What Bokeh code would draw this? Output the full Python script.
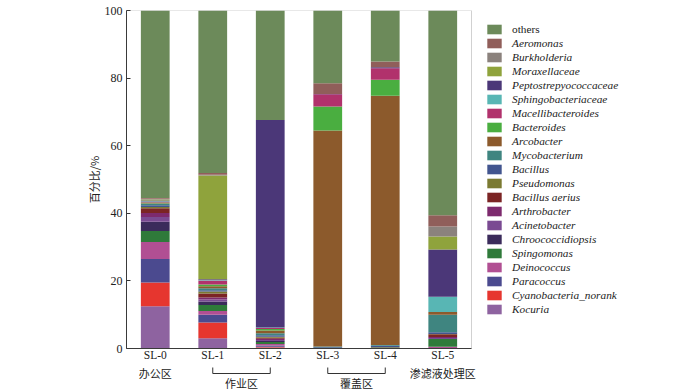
from bokeh.plotting import figure
from bokeh.models import (ColumnDataSource, Range1d, Legend, LegendItem, FixedTicker,
                          BoxAnnotation)
from bokeh.layouts import column
from bokeh.core.properties import value
from bokeh.embed import file_html
from bokeh.resources import INLINE

samples = ["SL-0", "SL-1", "SL-2", "SL-3", "SL-4", "SL-5"]
groups = ["办公区", "作业区", "覆盖区", "渗滤液处理区"]
group_members = [["SL-0"], ["SL-1", "SL-2"], ["SL-3", "SL-4"], ["SL-5"]]
y_ticks = [0, 20, 40, 60, 80, 100]

# stacked bottom -> top
Kocuria = [12.5, 3.0, 0.3, 0, 0, 0]
Cyanobacteria_norank = [7.0, 4.7, 0.2, 0, 0, 0]
Paracoccus = [7.0, 2.3, 0.4, 0, 0, 0]
Deinococcus = [5.0, 1.1, 0.4, 0, 0, 0.5]
Spingomonas = [3.3, 1.8, 0.6, 0, 0, 2.3]
Chroococcidiopsis = [2.7, 1.0, 0.3, 0, 0, 0]
Acinetobacter = [1.4, 0.6, 0.3, 0, 0, 0.3]
Arthrobacter = [1.2, 0.6, 0.4, 0, 0, 0.3]
Bacillus_aerius = [1.4, 1.2, 0.3, 0, 0, 0.8]
Pseudomonas = [0.4, 0.6, 0.3, 0.1, 0.4, 0.1]
Bacillus = [0.5, 0.3, 0.4, 0.3, 0.4, 0.5]
Mycobacterium = [0.4, 0.6, 0.6, 0.2, 0.2, 5.2]
Arcobacter = [0.2, 0.6, 0.8, 63.9, 73.8, 0.8]
Bacteroides = [0.2, 0.5, 0.5, 7.1, 4.7, 0]
Macellibacteroides = [0.2, 1.2, 0.3, 3.6, 3.4, 0]
Sphingobacteriaceae = [0.2, 0.2, 0.1, 0, 0, 4.5]
Peptostrepyococcaceae = [0.2, 0.2, 61.4, 0.1, 0.3, 14.0]
Moraxellaceae = [0.3, 30.7, 0, 0, 0, 3.8]
Burkholderia = [0.2, 0.2, 0, 0, 0, 3.0]
Aeromonas = [0.2, 0.5, 0, 3.2, 1.7, 3.3]
others = [55.5, 48.1, 32.4, 21.5, 15.1, 60.6]

names = ["Kocuria", "Cyanobacteria_norank", "Paracoccus", "Deinococcus", "Spingomonas",
         "Chroococcidiopsis", "Acinetobacter", "Arthrobacter", "Bacillus aerius",
         "Pseudomonas", "Bacillus", "Mycobacterium", "Arcobacter", "Bacteroides",
         "Macellibacteroides", "Sphingobacteriaceae", "Peptostrepyococcaceae",
         "Moraxellaceae", "Burkholderia", "Aeromonas", "others"]
series = [Kocuria, Cyanobacteria_norank, Paracoccus, Deinococcus, Spingomonas,
          Chroococcidiopsis, Acinetobacter, Arthrobacter, Bacillus_aerius,
          Pseudomonas, Bacillus, Mycobacterium, Arcobacter, Bacteroides,
          Macellibacteroides, Sphingobacteriaceae, Peptostrepyococcaceae,
          Moraxellaceae, Burkholderia, Aeromonas, others]
colors = ["#8E63A0", "#E6362F", "#4B4A8F", "#B14F93", "#2F7A3A",
          "#3B2B5B", "#7A4A92", "#7D2A6E", "#7B2424",
          "#7B7A32", "#42558F", "#3F8580", "#8C5A2C", "#4AAE40",
          "#B1326C", "#58B6B4", "#4B3778",
          "#8FA33C", "#8B827D", "#905E5A", "#6C8A5A"]

n_s = len(samples)
xpos = [i + 0.5 for i in range(n_s)]

data = {"x": xpos}
for n, s in zip(names, series):
    data[n] = s
source = ColumnDataSource(data)

SERIF = "Liberation Serif"
CJK = "Noto Sans CJK SC"
TXT = "#222222"

LEFT = 126
TOP = 10
BAR_W = 345          # pixel width of the bar area
FRAME_W = 572        # bar area + legend area
FRAME_H = 338
BOTTOM = 16
BELOW_H = 26
X_END = n_s * FRAME_W / BAR_W

# ---------------- main chart ----------------
p = figure(x_range=Range1d(0, X_END), y_range=Range1d(0, 100),
           frame_width=FRAME_W, frame_height=FRAME_H,
           min_border_left=LEFT, min_border_right=0,
           min_border_top=TOP, min_border_bottom=BOTTOM,
           output_backend="svg", toolbar_location=None,
           background_fill_color="white", border_fill_color="white")

renderers = p.vbar_stack(names, x="x", width=0.5, source=source,
                         color=colors, line_color=None)

p.xgrid.visible = False
p.ygrid.visible = False
p.outline_line_color = None
p.add_layout(BoxAnnotation(left=0, right=n_s, bottom=0, top=100, fill_alpha=0,
                           line_color="#666666", line_width=1))

p.yaxis.ticker = FixedTicker(ticks=y_ticks)
p.yaxis.major_tick_in = 4
p.yaxis.major_tick_out = 0
p.yaxis.minor_tick_line_color = None
p.yaxis.major_label_text_font = SERIF
p.yaxis.major_label_text_font_size = "12px"
p.yaxis.major_label_text_color = TXT
p.yaxis.major_label_standoff = 4
p.yaxis.axis_line_color = "#333333"
p.yaxis.major_tick_line_color = "#333333"
p.yaxis.axis_label = "百分比/%"
p.yaxis.axis_label_text_font = CJK
p.yaxis.axis_label_text_font_size = "11px"
p.yaxis.axis_label_text_font_style = "normal"
p.yaxis.axis_label_text_color = TXT
p.yaxis.axis_label_standoff = 0

p.xaxis.ticker = FixedTicker(ticks=xpos)
p.xaxis.major_label_overrides = {x: s for x, s in zip(xpos, samples)}
p.xaxis.bounds = (0, n_s)
p.xaxis.major_tick_in = 0
p.xaxis.major_tick_out = 0
p.xaxis.major_tick_line_color = None
p.xaxis.minor_tick_line_color = None
p.xaxis.axis_line_color = "#333333"
p.xaxis.major_label_text_font = SERIF
p.xaxis.major_label_text_font_size = "11.5px"
p.xaxis.major_label_text_color = TXT
p.xaxis.major_label_standoff = 0

# legends inside the (wide) frame, right of the bars
others_items = [LegendItem(label="others", renderers=[renderers[-1]])]
genus_items = [LegendItem(label=n, renderers=[r]) for n, r in
               zip(names[:-1][::-1], renderers[:-1][::-1])]
ITEM_H = 14
common = dict(glyph_width=18, glyph_height=12, label_height=ITEM_H, spacing=0,
              padding=0, margin=0, border_line_color=None, background_fill_alpha=0,
              label_text_font=SERIF, label_text_font_size="11.3px", label_standoff=9,
              label_text_color=TXT)
LEG_X = 485 - LEFT
first_center = 28.7 - TOP
leg_a = Legend(items=others_items,
               location=(LEG_X, FRAME_H - (first_center + ITEM_H / 2)),
               label_text_font_style="normal", **common)
leg_b = Legend(items=genus_items,
               location=(LEG_X, FRAME_H - (first_center + ITEM_H / 2 + len(genus_items) * ITEM_H)),
               label_text_font_style="italic", **common)
p.add_layout(leg_a)
p.add_layout(leg_b)

# ---------------- group labels below ----------------
bf = figure(frame_width=FRAME_W, frame_height=BELOW_H,
            x_range=Range1d(0, X_END), y_range=Range1d(0, BELOW_H),
            x_axis_type=None, y_axis_type=None,
            min_border_left=LEFT, min_border_right=0, min_border_top=0, min_border_bottom=0,
            output_backend="svg", toolbar_location=None,
            outline_line_color=None, background_fill_color="white", border_fill_color="white")
bf.xgrid.visible = False
bf.ygrid.visible = False

single_x, single_t, multi_x, multi_t = [], [], [], []
bx0, by0, bx1, by1 = [], [], [], []
for g, members in zip(groups, group_members):
    idx = [samples.index(m) + 0.5 for m in members]
    cx = sum(idx) / len(idx)
    if len(members) == 1:
        single_x.append(cx); single_t.append(g)
    else:
        multi_x.append(cx); multi_t.append(g)
        lo, hi = min(idx), max(idx)
        top_y, bot_y = BELOW_H - 3, BELOW_H - 9
        bx0 += [lo, hi, lo]; by0 += [top_y, top_y, bot_y]
        bx1 += [lo, hi, hi]; by1 += [bot_y, bot_y, bot_y]

bf.segment(x0=bx0, y0=by0, x1=bx1, y1=by1, line_color="#333333", line_width=1)
bf.text(x=single_x, y=[BELOW_H - 8] * len(single_x), text=single_t,
        text_font=value(CJK), text_font_size="11px", text_align="center",
        text_baseline="middle", text_color=TXT)
bf.text(x=multi_x, y=[BELOW_H - 18] * len(multi_x), text=multi_t,
        text_font=value(CJK), text_font_size="11px", text_align="center",
        text_baseline="middle", text_color=TXT)

layout = column(p, bf)
open("out.html", "w").write(file_html(layout, INLINE))
